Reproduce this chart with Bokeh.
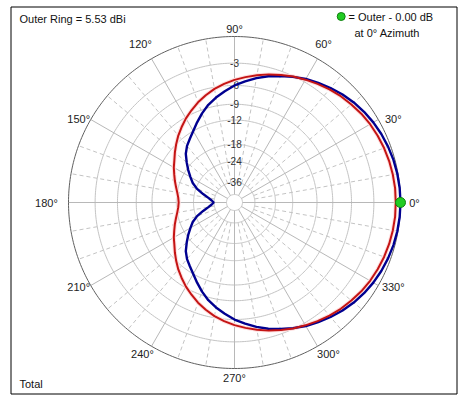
import numpy as np
from bokeh.plotting import figure
from bokeh.models import Range1d
from bokeh.embed import file_html
from bokeh.resources import INLINE
from bokeh.core.properties import value

# ---- data (dB relative to outer ring) ----
half_angles = list(range(0, 181, 5))
blue_db = [0.0, -0.02, -0.07, -0.15, -0.27, -0.42, -0.6, -0.83, -1.1, -1.42,
           -1.8, -2.2, -2.6, -3.1, -3.6, -4.1, -4.7, -5.35, -6.0, -6.8,
           -7.6, -8.5, -9.6, -10.8, -12.0, -13.0, -13.9, -15.1, -16.8, -18.5,
           -20.3, -22.0, -24.5, -28.0, -31.5, -34.0, -35.7]
red_db = [-0.5, -0.5, -0.55, -0.62, -0.72, -0.85, -1.0, -1.2, -1.45, -1.7,
          -2.0, -2.35, -2.7, -3.05, -3.45, -3.85, -4.3, -4.75, -5.2, -5.7,
          -6.25, -6.9, -7.6, -8.4, -9.2, -10.1, -11.0, -12.0, -13.0, -14.0,
          -14.8, -15.7, -16.5, -17.3, -18.0, -18.5, -18.7]
ring_db = [-3, -6, -9, -12, -18, -24, -36]
ring_labels = ["-3", "-6", "-9", "-12", "-18", "-24", "-36"]
inner_db = -52
angle_ticks = [0, 30, 60, 90, 120, 150, 180, 210, 240, 270, 300, 330]
angle_labels = [f"{a}\u00b0" for a in angle_ticks]
max_angle = 0
max_db = 0.0
outer_gain = "5.53"

# ---- helpers ----
R = 166.0  # px per unit radius
W, H = 465, 397
CX, CY = 234.0, 202.0  # center in figure px


def rho(db):
    return 0.89 ** (-np.asarray(db, dtype=float) / 2.0)


def px(xp):
    return (xp - CX) / R


def py(yp):
    return (CY - yp) / R


full_angles = half_angles + [360 - a for a in half_angles[-2::-1]]
blue_full = blue_db + blue_db[-2::-1]
red_full = red_db + red_db[-2::-1]
th = np.radians(full_angles)
rb = rho(blue_full)
rr = rho(red_full)

p = figure(width=W, height=H, output_backend="svg", toolbar_location=None,
           x_range=Range1d(px(0), px(W)), y_range=Range1d(py(H), py(0)),
           min_border=0)
p.axis.visible = False
p.grid.visible = False
p.outline_line_color = None
p.background_fill_color = "white"
p.border_fill_color = "white"

# frame
p.quad(left=px(10.5), right=px(456.5), top=py(6.5), bottom=py(393.5),
       fill_color=None, line_color="black", line_width=1)

# grid rings
t = np.linspace(0, 2 * np.pi, 361)
for db in ring_db + [inner_db]:
    r = float(rho(db))
    p.line(r * np.cos(t), r * np.sin(t), line_color="#c4c4c4", line_width=1)

# dashed radials every 10 deg
r_in_dash = float(rho(-36))
for a in range(0, 360, 10):
    if a % 30 == 0:
        continue
    ar = np.radians(a)
    p.line([r_in_dash * np.cos(ar), np.cos(ar)], [r_in_dash * np.sin(ar), np.sin(ar)],
           line_color="#c4c4c4", line_width=1, line_dash="4 3")
# solid radials every 30 deg
r_in = float(rho(inner_db))
for a in angle_ticks:
    ar = np.radians(a)
    p.line([r_in * np.cos(ar), np.cos(ar)], [r_in * np.sin(ar), np.sin(ar)],
           line_color="#b8b8b8", line_width=1)

# outer ring
p.line(np.cos(t), np.sin(t), line_color="#606060", line_width=1)

# ring labels
p.text(x=[0.0] * len(ring_db), y=list(rho(ring_db)), text=ring_labels,
       text_font=value("Liberation Sans"), text_font_size="10px",
       text_color="#333333", text_align="center", text_baseline="middle")

# angle labels: offsets (px) from point on outer ring
lab_off = {0: (14, 0), 30: (15, -1), 60: (6, -15), 90: (0, -8), 120: (-11, -15),
           150: (-12, -1), 180: (-22, 0), 210: (-12, 1), 240: (-9, 8),
           270: (0, 9), 300: (11, 8), 330: (15, 1)}
lx, ly = [], []
for a in angle_ticks:
    ar = np.radians(a)
    dx, dy = lab_off[a]
    lx.append(np.cos(ar) + dx / R)
    ly.append(np.sin(ar) - dy / R)
p.text(x=lx, y=ly, text=angle_labels, text_font=value("Liberation Sans"),
       text_font_size="11px", text_color="#222222", text_align="center",
       text_baseline="middle")

# patterns
p.line(rr * np.cos(th), rr * np.sin(th), line_color="#ffdede", line_width=4)
p.line(rb * np.cos(th), rb * np.sin(th), line_color="#000090", line_width=2.4)
p.line(rr * np.cos(th), rr * np.sin(th), line_color="#c41414", line_width=2)

# max marker
mr = float(rho(max_db))
p.scatter([mr * np.cos(np.radians(max_angle))], [mr * np.sin(np.radians(max_angle))],
          size=10, fill_color="#22cc22", line_color="#108010", line_width=1)

# texts
p.text(x=[px(19)], y=[py(18)], text=[f"Outer Ring = {outer_gain} dBi"],
       text_font=value("Liberation Sans"), text_font_size="11px",
       text_color="#111111", text_align="left", text_baseline="middle")
p.scatter([px(340.7)], [py(16)], size=8, fill_color="#22cc22",
          line_color="#108010", line_width=1)
p.text(x=[px(348), px(354)], y=[py(16.7), py(32.7)],
       text=[f"= Outer - {max_db:.2f} dB", f"at {max_angle}\u00b0 Azimuth"],
       text_font=value("Liberation Sans"), text_font_size="11px",
       text_color="#111111", text_align="left", text_baseline="middle")
p.text(x=[px(19)], y=[py(383)], text=["Total"],
       text_font=value("Liberation Sans"), text_font_size="11px",
       text_color="#111111", text_align="left", text_baseline="middle")

open("out.html", "w").write(file_html(p, INLINE))
